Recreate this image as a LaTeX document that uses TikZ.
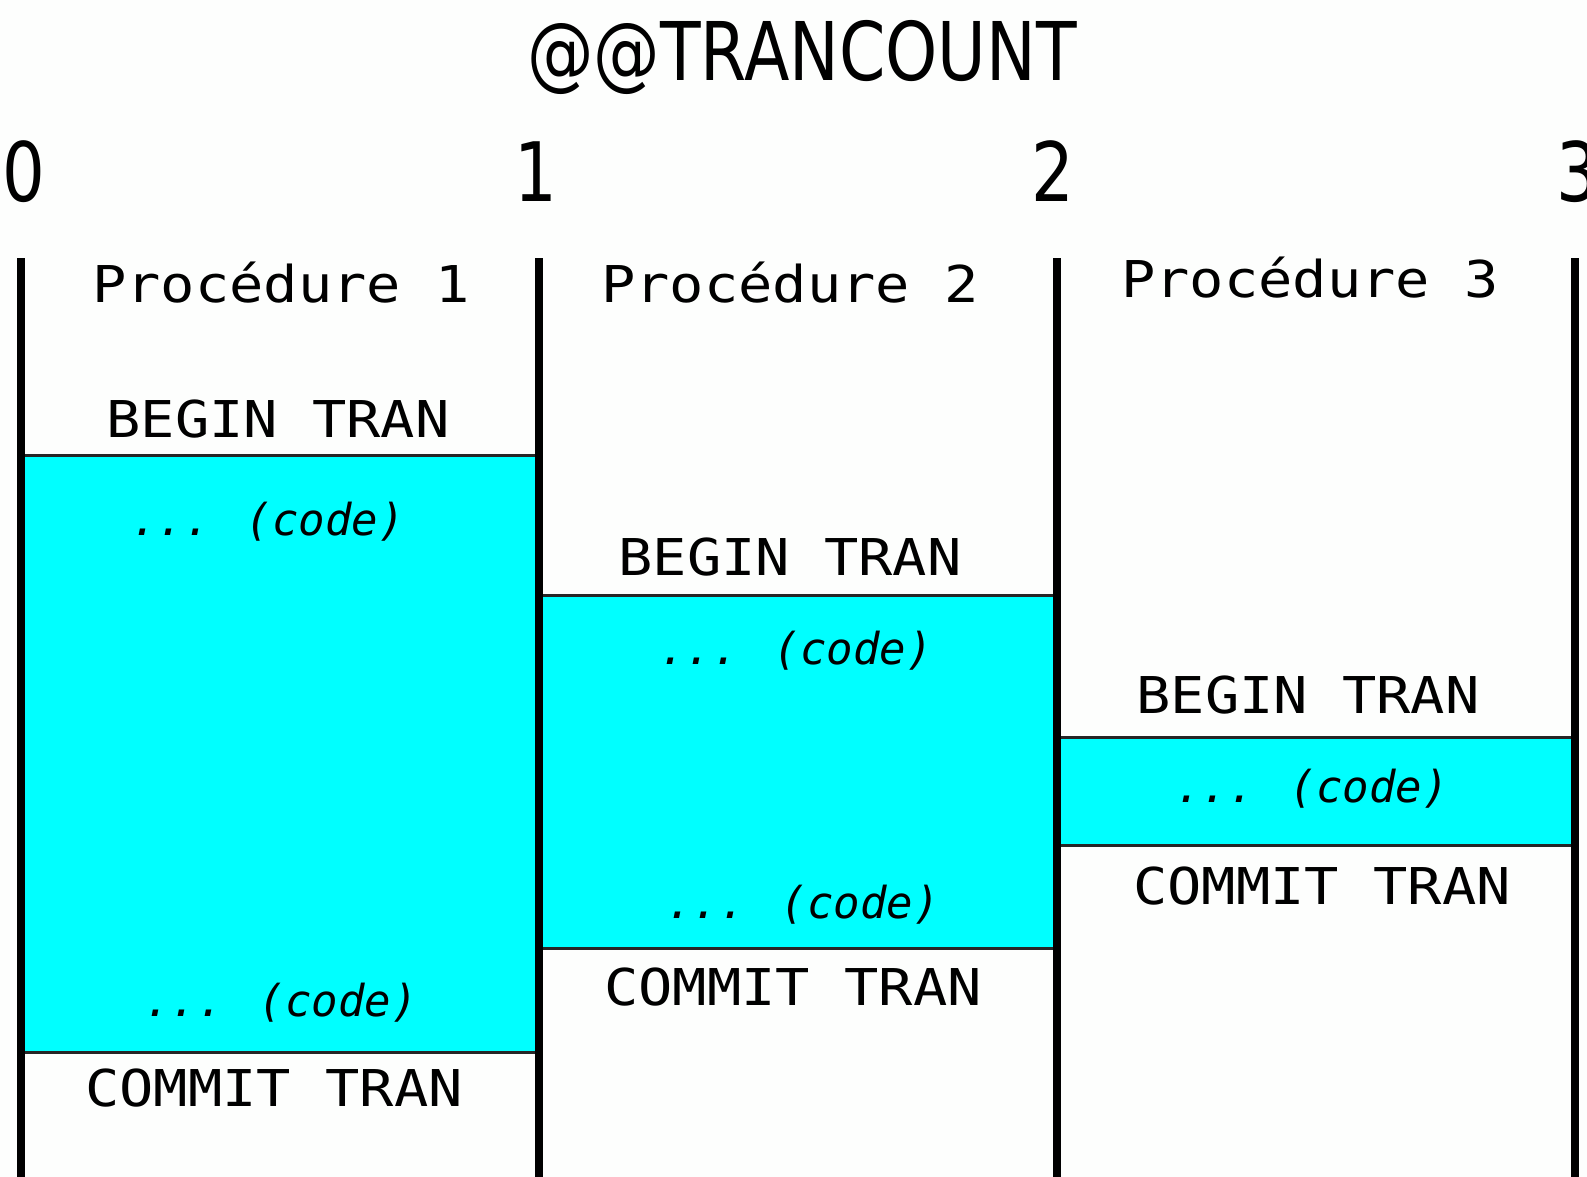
\documentclass[tikz,border=0pt]{standalone}
\usepackage{fontspec}
\usepackage{graphicx}
\newfontfamily\hdrfont{DejaVu Sans}
\newfontfamily\codefont{DejaVu Sans Mono}
\definecolor{trancyan}{HTML}{00FFFF}
\definecolor{bgwhite}{HTML}{FDFEFD}
\tikzset{
  hdr/.style={anchor=base, inner sep=0pt, font=\hdrfont\fontsize{81}{90}\selectfont},
  digit/.style={anchor=base, inner sep=0pt, font=\hdrfont\fontsize{82}{90}\selectfont},
  proc/.style={anchor=base, inner sep=0pt, font=\codefont\fontsize{57}{60}\selectfont},
  kw/.style={anchor=base, inner sep=0pt, font=\codefont\fontsize{57}{60}\selectfont},
  codetxt/.style={anchor=base, inner sep=0pt, font=\codefont\itshape\fontsize{44}{48}\selectfont},
  txbox/.style={fill=trancyan, draw=none},
  edgeline/.style={line width=3pt, draw=black!85},
  colline/.style={line width=8pt, draw=black}
}
\newcommand{\hsq}[1]{\scalebox{0.82}[1]{#1}}
\newcommand{\vsq}[1]{\scalebox{1}[0.89]{#1}}
\begin{document}
\begin{tikzpicture}[x=1pt,y=-1pt]
\fill[bgwhite] (0,0) rectangle (1587,1177);
\useasboundingbox (0,0) rectangle (1587,1177);
% transaction blocks
\fill[txbox] (25,455) rectangle (535,1052);
\fill[txbox] (543,595) rectangle (1053,948);
\fill[txbox] (1061,737) rectangle (1571,845);
\draw[edgeline] (25,455) -- (535,455);
\draw[edgeline] (25,1052) -- (535,1052);
\draw[edgeline] (543,595) -- (1053,595);
\draw[edgeline] (543,948) -- (1053,948);
\draw[edgeline] (1061,737) -- (1571,737);
\draw[edgeline] (1061,845) -- (1571,845);
% column separators
\coordinate (c0t) at (21,258); \coordinate (c0b) at (21,1185);
\coordinate (c1t) at (539,258); \coordinate (c1b) at (539,1185);
\coordinate (c2t) at (1057,258); \coordinate (c2b) at (1057,1185);
\coordinate (c3t) at (1575,258); \coordinate (c3b) at (1575,1185);
\draw[colline] (c0t) -- (c0b);
\draw[colline] (c1t) -- (c1b);
\draw[colline] (c2t) -- (c2b);
\draw[colline] (c3t) -- (c3b);
% header
\node[hdr] (title) at (802,81) {\hsq{@@TRANCOUNT}};
\node[digit] (d0) at (24,202) {\hsq{0}};
\node[digit] (d1) at (536,202) {\hsq{1}};
\node[digit] (d2) at (1053,202) {\hsq{2}};
\node[digit] (d3) at (1578,202) {\hsq{3}};
% procedures
\node[proc] (p1) at (281,302) {\vsq{Procédure 1}};
\node[proc] (p2) at (790,302) {\vsq{Procédure 2}};
\node[proc] (p3) at (1310,297) {\vsq{Procédure 3}};
% begin tran
\node[kw] (b1) at (278,437) {\vsq{BEGIN TRAN}};
\node[kw] (b2) at (790,575) {\vsq{BEGIN TRAN}};
\node[kw] (b3) at (1308,713) {\vsq{BEGIN TRAN}};
% code
\node[codetxt] (k1a) at (268,535) {... (code)};
\node[codetxt] (k1b) at (281,1016) {... (code)};
\node[codetxt] (k2a) at (796,664) {... (code)};
\node[codetxt] (k2b) at (803,918) {... (code)};
\node[codetxt] (k3) at (1312,802) {... (code)};
% commit tran
\node[kw] (e1) at (274,1106) {\vsq{COMMIT TRAN}};
\node[kw] (e2) at (793,1005) {\vsq{COMMIT TRAN}};
\node[kw] (e3) at (1322,904) {\vsq{COMMIT TRAN}};
\end{tikzpicture}
\end{document}
